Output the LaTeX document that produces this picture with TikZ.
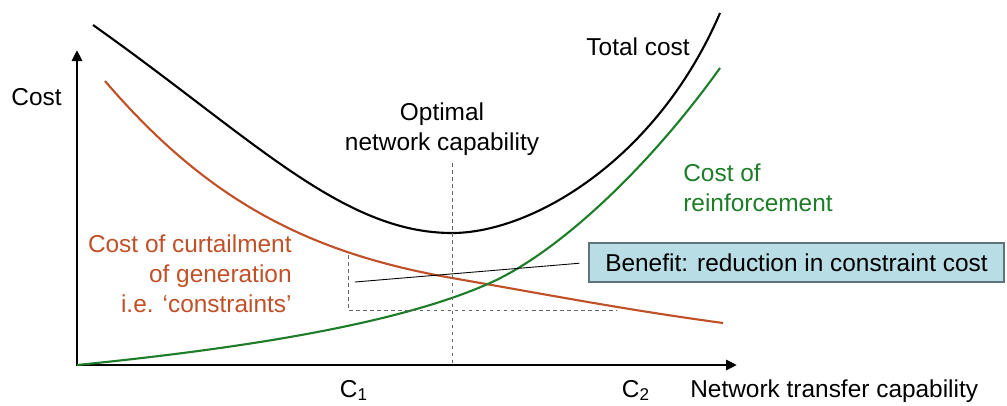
\documentclass[tikz,border=0pt]{standalone}
\usepackage{fontspec}
\setmainfont{Liberation Sans}
\usetikzlibrary{arrows.meta}
\definecolor{curtred}{RGB}{192,80,40}
\definecolor{reinfgreen}{RGB}{30,125,40}
\definecolor{calloutblue}{RGB}{185,221,229}
\definecolor{calloutedge}{RGB}{95,115,120}
\begin{document}
\begin{tikzpicture}[auto]

%
% Styles
%
\tikzstyle{axisline}   = [line width=1.7pt,{Triangle[length=0.22cm,width=0.2cm]}-{Triangle[length=0.22cm,width=0.2cm]}]
\tikzstyle{totalcurve} = [line width=1.2pt,black]
\tikzstyle{curtcurve}  = [line width=1.2pt,curtred]
\tikzstyle{reinfcurve} = [line width=1.2pt,reinfgreen]
\tikzstyle{guide}      = [gray!80!black,line width=0.5pt,dash pattern=on 2pt off 2pt]
\tikzstyle{pointer}    = [black,line width=0.5pt]
\tikzstyle{callout}    = [draw=calloutedge,fill=calloutblue,line width=0.8pt,minimum width=8.3cm,minimum height=0.78cm,inner sep=0pt]
\tikzstyle{annot}      = [inner sep=0pt,font=\fontsize{13.9}{17}\selectfont]

\useasboundingbox (-1.54,-0.8) rectangle (18.6,7.3);

% axes
\coordinate (o)    at (0,0);
\coordinate (ytop) at (0,6.3);
\coordinate (xend) at (13.2,0);
\draw[axisline] (ytop) -- (o) -- (xend);

% curves
\draw[totalcurve] (0.32,6.8) .. controls (3.5,4.55) and (5.3,2.64) .. (7.5,2.64)
                             .. controls (9.1,2.64) and (11.6,4.1) .. (12.86,7.04);
\draw[curtcurve]  (0.56,5.68) .. controls (2.6,3.3) and (4.6,2.25) .. (7.5,1.74)
                              .. controls (9.5,1.39) and (11,1.1) .. (12.92,0.84);
\draw[reinfcurve] (o) .. controls (3.5,0.35) and (6.5,0.85) .. (8.26,1.64)
                      .. controls (9.6,2.24) and (11.4,3.9) .. (12.86,5.94);

% dashed guides
\coordinate (optTop) at (7.5,4.04);
\coordinate (optBot) at (7.5,0);
\coordinate (c1Top)  at (5.42,2.2);
\coordinate (c1Bot)  at (5.42,1.1);
\coordinate (c2Bot)  at (10.8,1.1);
\draw[guide] (optTop) -- (optBot);
\draw[guide] (c1Top) -- (c1Bot) -- (c2Bot);

% benefit callout
\node[callout,annot] (benefit) at (14.39,2.05) {Benefit: reduction in constraint cost};
\coordinate (benStart) at (5.56,1.66);
\draw[pointer,shorten >=0.18cm] (benStart) -- (benefit.west);

% labels
\node[annot]                                   (costLbl)  at (-0.81,5.36) {Cost};
\node[annot,align=center]                      (optLbl)   at (7.3,4.72)   {Optimal\\network capability};
\node[annot,anchor=base east]                  (totalLbl) at (12.26,6.2)  {Total cost};
\node[annot,anchor=west,align=left,reinfgreen] (reinfLbl) at (12.12,3.54) {Cost of\\reinforcement};
\node[annot,anchor=east,align=right,curtred]   (curtLbl)  at (4.3,1.83)   {Cost of curtailment\\of generation\\i.e. `constraints'};
\node[annot,anchor=base]                       (c1Lbl)    at (5.54,-0.64) {C\textsubscript{1}};
\node[annot,anchor=base]                       (c2Lbl)    at (11.18,-0.64) {C\textsubscript{2}};
\node[annot,anchor=base west]                  (xLbl)     at (12.26,-0.64) {Network transfer capability};

\end{tikzpicture}
\end{document}
